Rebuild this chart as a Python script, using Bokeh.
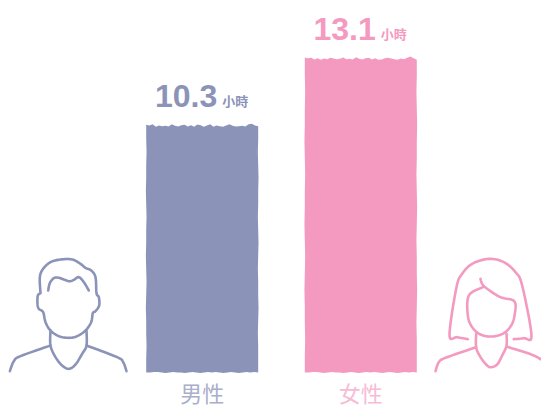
from bokeh.embed import file_html
from bokeh.resources import INLINE
from bokeh.plotting import figure
from bokeh.models import Range1d, ColumnDataSource
from bokeh.core.properties import value

categories = ["男性", "女性"]
hours = [10.3, 13.1]
unit = "小時"
colors = ["#8b93b8", "#f49ac1"]
label_colors = ["#a9afcb", "#f8bbd6"]

W, H = 541, 408
OX = 0
PX_PER_HOUR = 23.93
BASE_PY = 372.0
BAR_W = 112.0
CENTERS = [201.7, 360.3]

# torn-paper edge offsets in px
top_edge = [0, 1, 0, 2, 1, 2, 1, 2, 0, 1, 2, 1, 0, 2, 1, 2, 0, 1, 2, 1, 0, 2, 1, 2, 2, 1, 0, 1, 2, 2, 1, 2, 0, -1, 1, 2]
bot_edge = [0, 1, 0, 1, 0, -1, 0, 1, 0, -1, 0, 1, 0, 1, 0, -1, 0, 1, 0, -1, 0, 0, 1, 0, -1, 0, 1, 1, 0, 0]
side_a = [0, 1, 0, 0, -1, 0, 1, 0, -1, 0, 0, 1, 0, -1, 0, 0, 1, 0]
side_b = [0, -1, 0, 1, 0, 0, -1, 0, 1, 0, -1, 0, 0, 1, 0, -1, 0, 0]

p = figure(width=W, height=H, output_backend="svg", toolbar_location=None,
           x_range=Range1d((OX - CENTERS[0]) / (CENTERS[1] - CENTERS[0]),
                           (OX + W - CENTERS[0]) / (CENTERS[1] - CENTERS[0])),
           y_range=Range1d((BASE_PY - (OX + H)) / PX_PER_HOUR, (BASE_PY - OX) / PX_PER_HOUR),
           min_border=0, outline_line_color=None)
p.axis.visible = False
p.grid.visible = False
p.background_fill_color = "white"
p.border_fill_color = "white"
p.extra_x_ranges["px"] = Range1d(OX, OX + W)
p.extra_y_ranges["px"] = Range1d(OX + H, OX)

step = 1 / (CENTERS[1] - CENTERS[0])
for i, (h, c) in enumerate(zip(hours, colors)):
    half = BAR_W / 2 * step
    xs, ys = [], []
    n = len(top_edge)
    for k, d in enumerate(top_edge):
        xs.append(i - half + 2 * half * k / (n - 1))
        ys.append(h + (1.5 - d) / PX_PER_HOUR + ((k * 7 + i) % 3 - 1) * 0.3 / PX_PER_HOUR)
    m = len(side_b)
    for k, d in enumerate(side_b):
        xs.append(i + half + d * 0.35 * step)
        ys.append(h - h * (k + 1) / (m + 1))
    m = len(bot_edge)
    for k, d in enumerate(bot_edge):
        xs.append(i + half - 2 * half * k / (m - 1))
        ys.append(d * 0.6 / PX_PER_HOUR)
    m = len(side_a)
    for k, d in enumerate(side_a):
        xs.append(i - half + d * 0.35 * step)
        ys.append(h * (k + 1) / (m + 1))
    p.patch(xs, ys, fill_color=c, line_color=None)


def smooth(pts, seg=8):
    out = []
    n = len(pts)
    for i in range(n - 1):
        p0 = pts[max(i - 1, 0)]; p1 = pts[i]; p2 = pts[i + 1]; p3 = pts[min(i + 2, n - 1)]
        for s in range(seg):
            t = s / seg
            f = lambda a, b, c, d: 0.5 * (2 * b + (c - a) * t + (2 * a - 5 * b + 4 * c - d) * t * t + (3 * b - a - 3 * c + d) * t ** 3)
            out.append((f(p0[0], p1[0], p2[0], p3[0]), f(p0[1], p1[1], p2[1], p3[1])))
    out.append(pts[-1])
    return out


def icon(paths, ox, color):
    for path in paths:
        pts = smooth([(ox + a / 3, 240 + b / 3) for a, b in path])
        p.line([q[0] for q in pts], [q[1] for q in pts], line_color=color, line_width=2.6,
               line_cap="round", line_join="round", x_range_name="px", y_range_name="px")


man = [
    [(120, 158), (118, 110), (128, 85), (150, 65), (180, 57), (215, 57), (240, 70), (255, 82), (272, 90),
     (285, 110), (288, 158), (295, 170), (296, 195), (285, 212), (277, 218), (272, 245), (255, 270), (230, 287),
     (205, 292), (175, 287), (150, 270), (135, 245), (128, 215), (115, 205), (111, 190), (112, 165), (120, 158)],
    [(143, 150), (148, 128), (160, 113), (175, 112), (205, 122), (220, 118), (235, 110), (250, 125), (265, 150)],
    [(150, 270), (150, 315), (165, 350), (185, 375), (205, 385), (225, 372), (245, 340), (258, 315), (258, 270)],
    [(150, 315), (60, 347), (40, 362), (28, 392)],
    [(258, 315), (350, 350), (368, 365), (378, 392)],
]
woman = [
    [(592, 296), (560, 290), (537, 283), (558, 140), (575, 100), (605, 70), (655, 55), (700, 65), (735, 95),
     (755, 135), (783, 285), (760, 293), (730, 296)],
    [(630, 115), (635, 130), (650, 145), (690, 170), (732, 183), (732, 225), (722, 255), (700, 278), (665, 288),
     (630, 282), (605, 260), (592, 225), (595, 165), (637, 140)],
    [(617, 280), (617, 320), (630, 350), (650, 375), (662, 380), (680, 372), (695, 345), (708, 315), (708, 280)],
    [(617, 320), (525, 352), (505, 365), (495, 392)],
    [(708, 318), (790, 345), (830, 370)],
]
icon(man, 0, colors[0])
icon(woman, 270, colors[1])

# value labels: number + unit, placed relative to each bar top
for i, (h, c, lc, cat) in enumerate(zip(hours, colors, label_colors, categories)):
    top_py = BASE_PY - h * PX_PER_HOUR
    cx = CENTERS[i]
    src = ColumnDataSource(dict(x=[cx + 15], y=[top_py - 30], t=[f"{h:.1f}"]))
    p.text("x", "y", text="t", source=src, x_range_name="px", y_range_name="px", text_align="right",
           text_baseline="alphabetic", text_color=c, text_font=value("Liberation Sans"),
           text_font_style="bold", text_font_size="32px")
    src2 = ColumnDataSource(dict(x=[cx + 20], y=[top_py - 26], t=[unit]))
    p.text("x", "y", text="t", source=src2, x_range_name="px", y_range_name="px", text_align="left",
           text_baseline="alphabetic", text_color=c, text_font=value("Noto Sans CJK TC"),
           text_font_style="bold", text_font_size="13px")
    src3 = ColumnDataSource(dict(x=[cx], y=[BASE_PY + 19], t=[cat]))
    p.text("x", "y", text="t", source=src3, x_range_name="px", y_range_name="px", text_align="center",
           text_baseline="middle", text_color=lc, text_font=value("Noto Sans CJK TC"),
           text_font_size="22px")

open("out.html", "w").write(file_html(p, INLINE))
